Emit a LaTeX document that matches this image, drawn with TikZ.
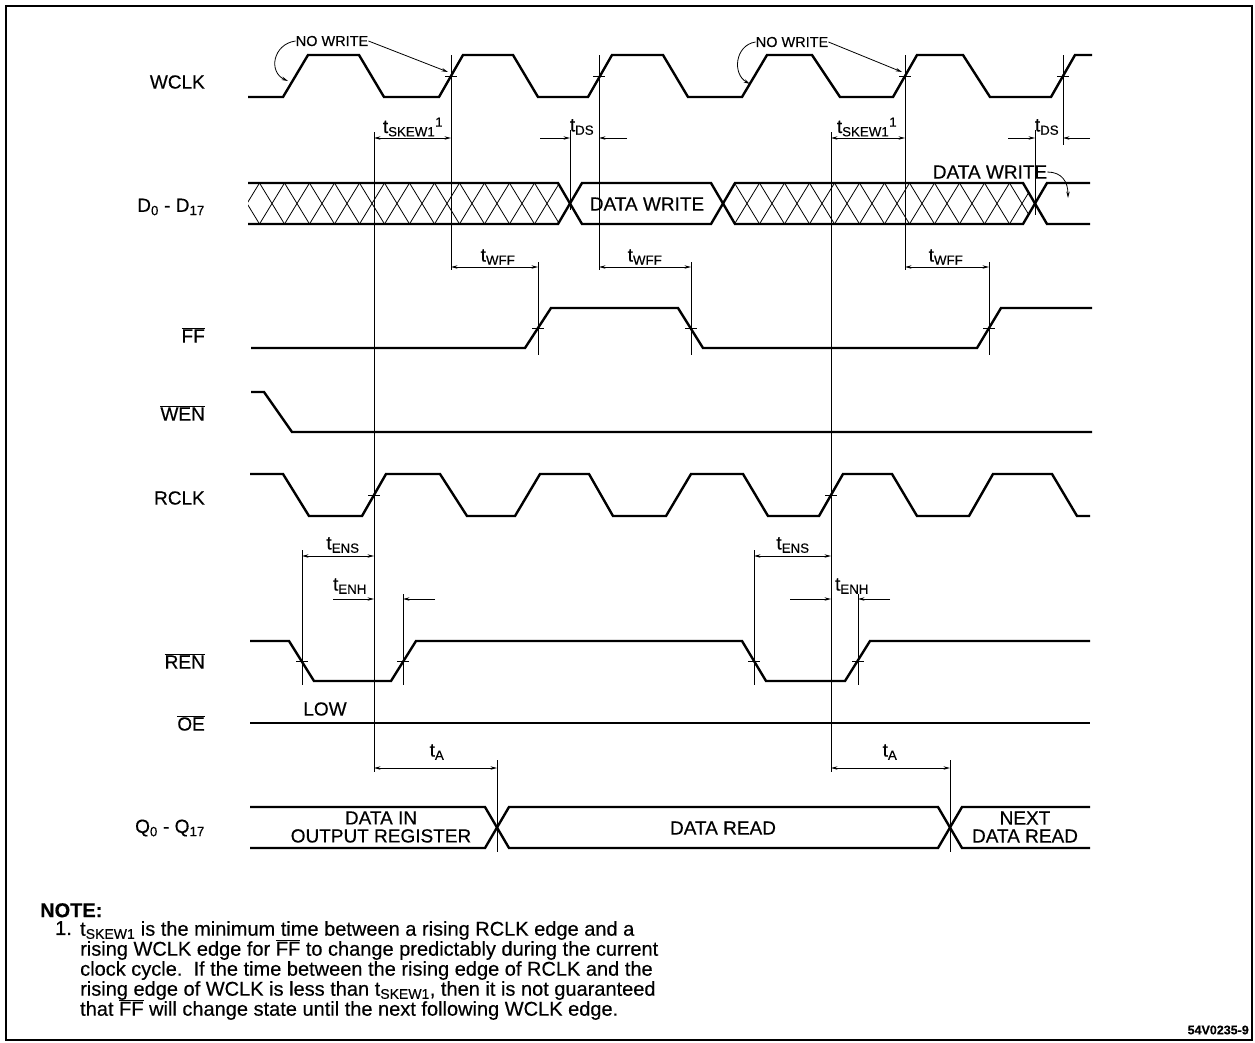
\documentclass[tikz,border=0pt]{standalone}
\usepackage{fontspec}
\setmainfont{Liberation Sans}[FakeBold=0.35]
\usetikzlibrary{arrows.meta}

\begin{document}
\begin{tikzpicture}[
    x=1pt,
    y=-1pt,
    >={Stealth[length=6.5pt,width=3.4pt]},
    wave/.style={
        line width=2.4pt,
        line join=miter
    },
    guide/.style={
        line width=0.8pt
    },
    dimline/.style={
        <->,
        line width=0.8pt
    },
    dimin/.style={
        ->,
        line width=0.8pt
    },
    pointer/.style={
        ->,
        line width=0.8pt
    },
    signame/.style={
        anchor=east,
        inner sep=0pt,
        font=\fontsize{19}{22}\selectfont
    },
    timing/.style={
        inner sep=0pt,
        font=\fontsize{19}{22}\selectfont
    },
    busword/.style={
        inner sep=0pt,
        align=center,
        font=\fontsize{19}{18}\selectfont
    },
    callout/.style={
        inner sep=0pt,
        font=\fontsize{14.5}{16}\selectfont
    },
    notetext/.style={
        anchor=north west,
        inner sep=0pt,
        align=left,
        font={\fontsize{20}{20}\selectfont\lineskiplimit -20pt\relax}
    }
]

\useasboundingbox (0,0) rectangle (1255,1042);

% Frame
\draw[line width=1.3pt] (6,6) rectangle (1252,1040);

% Signal names
\node[signame] (lwclk) at (205,82) {WCLK};
\node[signame] (ldata) at (205,207) {D\textsubscript{0} - D\textsubscript{17}};
\node[signame] (lff) at (205,335) {$\overline{\mbox{FF}}$};
\node[signame] (lwen) at (205,413) {$\overline{\mbox{WEN}}$};
\node[signame] (lrclk) at (205,498) {RCLK};
\node[signame] (lren) at (205,661) {$\overline{\mbox{REN}}$};
\node[signame] (loe) at (205,723) {$\overline{\mbox{OE}}$};
\node[signame] (lq) at (205,828) {Q\textsubscript{0} - Q\textsubscript{17}};

% WCLK
\draw[wave] (248,97) -- (283,97) -- (308,55) -- (359,55) -- (384,97) -- (439,97) -- (463,55) -- (513,55) -- (538,97) -- (588,97) -- (612,55) -- (663,55) -- (688,97) -- (742,97) -- (767,55) -- (812,55) -- (840,97) -- (893,97) -- (917,55) -- (963,55) -- (990,97) -- (1051,97) -- (1075,55) -- (1092,55);

% Data in bus
\draw[wave] (248,183) -- (558,183) -- (582,224) -- (711,224) -- (735,183) -- (1023,183) -- (1047,224) -- (1090,224);
\draw[wave] (248,224) -- (558,224) -- (582,183) -- (711,183) -- (735,224) -- (1023,224) -- (1047,183) -- (1090,183);
\begin{scope}
    \clip (248,183) -- (558,183) -- (570,203.5) -- (558,224) -- (248,224) -- cycle
          (723,203.5) -- (735,183) -- (1023,183) -- (1035,203.5) -- (1023,224) -- (735,224) -- cycle;
    \foreach \k in {-1,...,32}
        \draw[guide] (259.5+25*\k,183) -- (284.5+25*\k,224)
                     (284.5+25*\k,183) -- (259.5+25*\k,224);
\end{scope}
\node[timing] (dwrite) at (647,204) {DATA WRITE};

% FF
\draw[wave] (251,348) -- (525,348) -- (551,308) -- (678,308) -- (703,348) -- (977,348) -- (1001,308) -- (1092,308);

% WEN
\draw[wave] (251,392) -- (264,392) -- (292,432) -- (1092,432);

% RCLK
\draw[wave] (250,474) -- (283,474) -- (309,516) -- (362,516) -- (386,474) -- (440,474) -- (467,516) -- (515,516) -- (540,474) -- (589,474) -- (613,516) -- (666,516) -- (691,474) -- (743,474) -- (768,516) -- (819,516) -- (843,474) -- (892,474) -- (917,516) -- (969,516) -- (993,474) -- (1052,474) -- (1077,516) -- (1090,516);

% REN
\draw[wave] (250,641) -- (289,641) -- (314,681) -- (391,681) -- (416,641) -- (742,641) -- (766,681) -- (845,681) -- (870,641) -- (1090,641);

% OE
\draw[wave] (250,723) -- (1090,723);
\node[timing] (low) at (325,709) {LOW};

% Data out bus
\draw[wave] (250,807) -- (485,807) -- (509,848) -- (938,848) -- (962,807) -- (1090,807);
\draw[wave] (250,848) -- (485,848) -- (509,807) -- (938,807) -- (962,848) -- (1090,848);
\node[busword] (qold) at (381,827) {DATA IN\\OUTPUT REGISTER};
\node[busword] (qread) at (723,828) {DATA READ};
\node[busword] (qnext) at (1025,827) {NEXT\\DATA READ};

% Reference lines
\draw[guide] (451,55) -- (451,270);
\draw[guide] (599,55) -- (599,270);
\draw[guide] (905,55) -- (905,270);
\draw[guide] (1063,55) -- (1063,145);
\draw[guide] (570,130) -- (570,210);
\draw[guide] (1035,130) -- (1035,215);
\draw[guide] (374,132) -- (374,772);
\draw[guide] (831,132) -- (831,772);
\draw[guide] (538,262) -- (538,355);
\draw[guide] (691,262) -- (691,355);
\draw[guide] (989,262) -- (989,355);
\draw[guide] (302,550) -- (302,685);
\draw[guide] (754,550) -- (754,685);
\draw[guide] (403,594) -- (403,685);
\draw[guide] (858,594) -- (858,685);
\draw[guide] (497,760) -- (497,852);
\draw[guide] (950,760) -- (950,852);

% Crossing marks
\draw[guide] (445,76) -- (457,76);
\draw[guide] (593,76) -- (605,76);
\draw[guide] (899,76) -- (911,76);
\draw[guide] (1057,76) -- (1069,76);
\draw[guide] (532,328) -- (544,328);
\draw[guide] (685,328) -- (697,328);
\draw[guide] (983,328) -- (995,328);
\draw[guide] (368,495) -- (380,495);
\draw[guide] (825,495) -- (837,495);
\draw[guide] (296,661) -- (308,661);
\draw[guide] (397,661) -- (409,661);
\draw[guide] (748,661) -- (760,661);
\draw[guide] (852,661) -- (864,661);

% Timing parameters
\draw[dimline] (374,138) -- (451,138);
\draw[dimline] (831,138) -- (905,138);
\draw[dimin] (540,138) -- (570,138);
\draw[dimin] (627,138) -- (599,138);
\draw[dimin] (1008,138) -- (1035,138);
\draw[dimin] (1090,138) -- (1063,138);
\draw[dimline] (451,267) -- (538,267);
\draw[dimline] (599,267) -- (691,267);
\draw[dimline] (905,267) -- (989,267);
\draw[dimline] (302,556) -- (374,556);
\draw[dimline] (754,556) -- (831,556);
\draw[dimin] (333,599) -- (374,599);
\draw[dimin] (435,599) -- (403,599);
\draw[dimin] (790,599) -- (831,599);
\draw[dimin] (890,599) -- (858,599);
\draw[dimline] (374,768) -- (497,768);
\draw[dimline] (831,768) -- (950,768);

\node[timing] (tskewa) at (413,127) {t\textsubscript{SKEW1}\textsuperscript{1}};
\node[timing] (tskewb) at (867,127) {t\textsubscript{SKEW1}\textsuperscript{1}};
\node[timing] (tdsa) at (582,127) {t\textsubscript{DS}};
\node[timing] (tdsb) at (1047,127) {t\textsubscript{DS}};
\node[timing] (twffa) at (498,257) {t\textsubscript{WFF}};
\node[timing] (twffb) at (645,257) {t\textsubscript{WFF}};
\node[timing] (twffc) at (946,257) {t\textsubscript{WFF}};
\node[timing] (tensa) at (343,545) {t\textsubscript{ENS}};
\node[timing] (tensb) at (793,545) {t\textsubscript{ENS}};
\node[timing] (tenha) at (350,586) {t\textsubscript{ENH}};
\node[timing] (tenhb) at (852,586) {t\textsubscript{ENH}};
\node[timing] (taa) at (437,752) {t\textsubscript{A}};
\node[timing] (tab) at (890,752) {t\textsubscript{A}};

% Callouts
\node[callout] (nowra) at (332,41) {NO WRITE};
\coordinate (risea) at (288,81);
\coordinate (crossa) at (448,72);
\draw[pointer] (nowra.west) .. controls (273,44) and (268,72) .. (risea);
\draw[pointer] (nowra.east) -- (crossa);

\node[callout] (nowrb) at (792,42) {NO WRITE};
\coordinate (riseb) at (750,84);
\coordinate (crossb) at (902,72);
\draw[pointer] (nowrb.west) .. controls (735,45) and (732,74) .. (riseb);
\draw[pointer] (nowrb.east) -- (crossb);

\node[timing] (dwritenext) at (990,172) {DATA WRITE};
\coordinate (dnext) at (1068,198);
\draw[pointer] (dwritenext.east) .. controls (1062,172) and (1068,182) .. (dnext);

% Note
\node[anchor=north west, inner sep=0pt, font=\bfseries\fontsize{20}{20}\selectfont] (notehd) at (40,903) {NOTE:};
\node[notetext] (notenum) at (55,921) {1.};
\node[notetext] (notebody) at (80,921) {t\textsubscript{SKEW1} is the minimum time between a rising RCLK edge and a\\
rising WCLK edge for $\overline{\mbox{FF}}$ to change predictably during the current\\
clock cycle.\ \ If the time between the rising edge of RCLK and the\\
rising edge of WCLK is less than t\textsubscript{SKEW1}, then it is not guaranteed\\
that $\overline{\mbox{FF}}$ will change state until the next following WCLK edge.};

\node[anchor=east, inner sep=0pt, font=\bfseries\fontsize{12.5}{14}\selectfont] (figid) at (1249,1030) {54V0235-9};

\end{tikzpicture}
\end{document}
